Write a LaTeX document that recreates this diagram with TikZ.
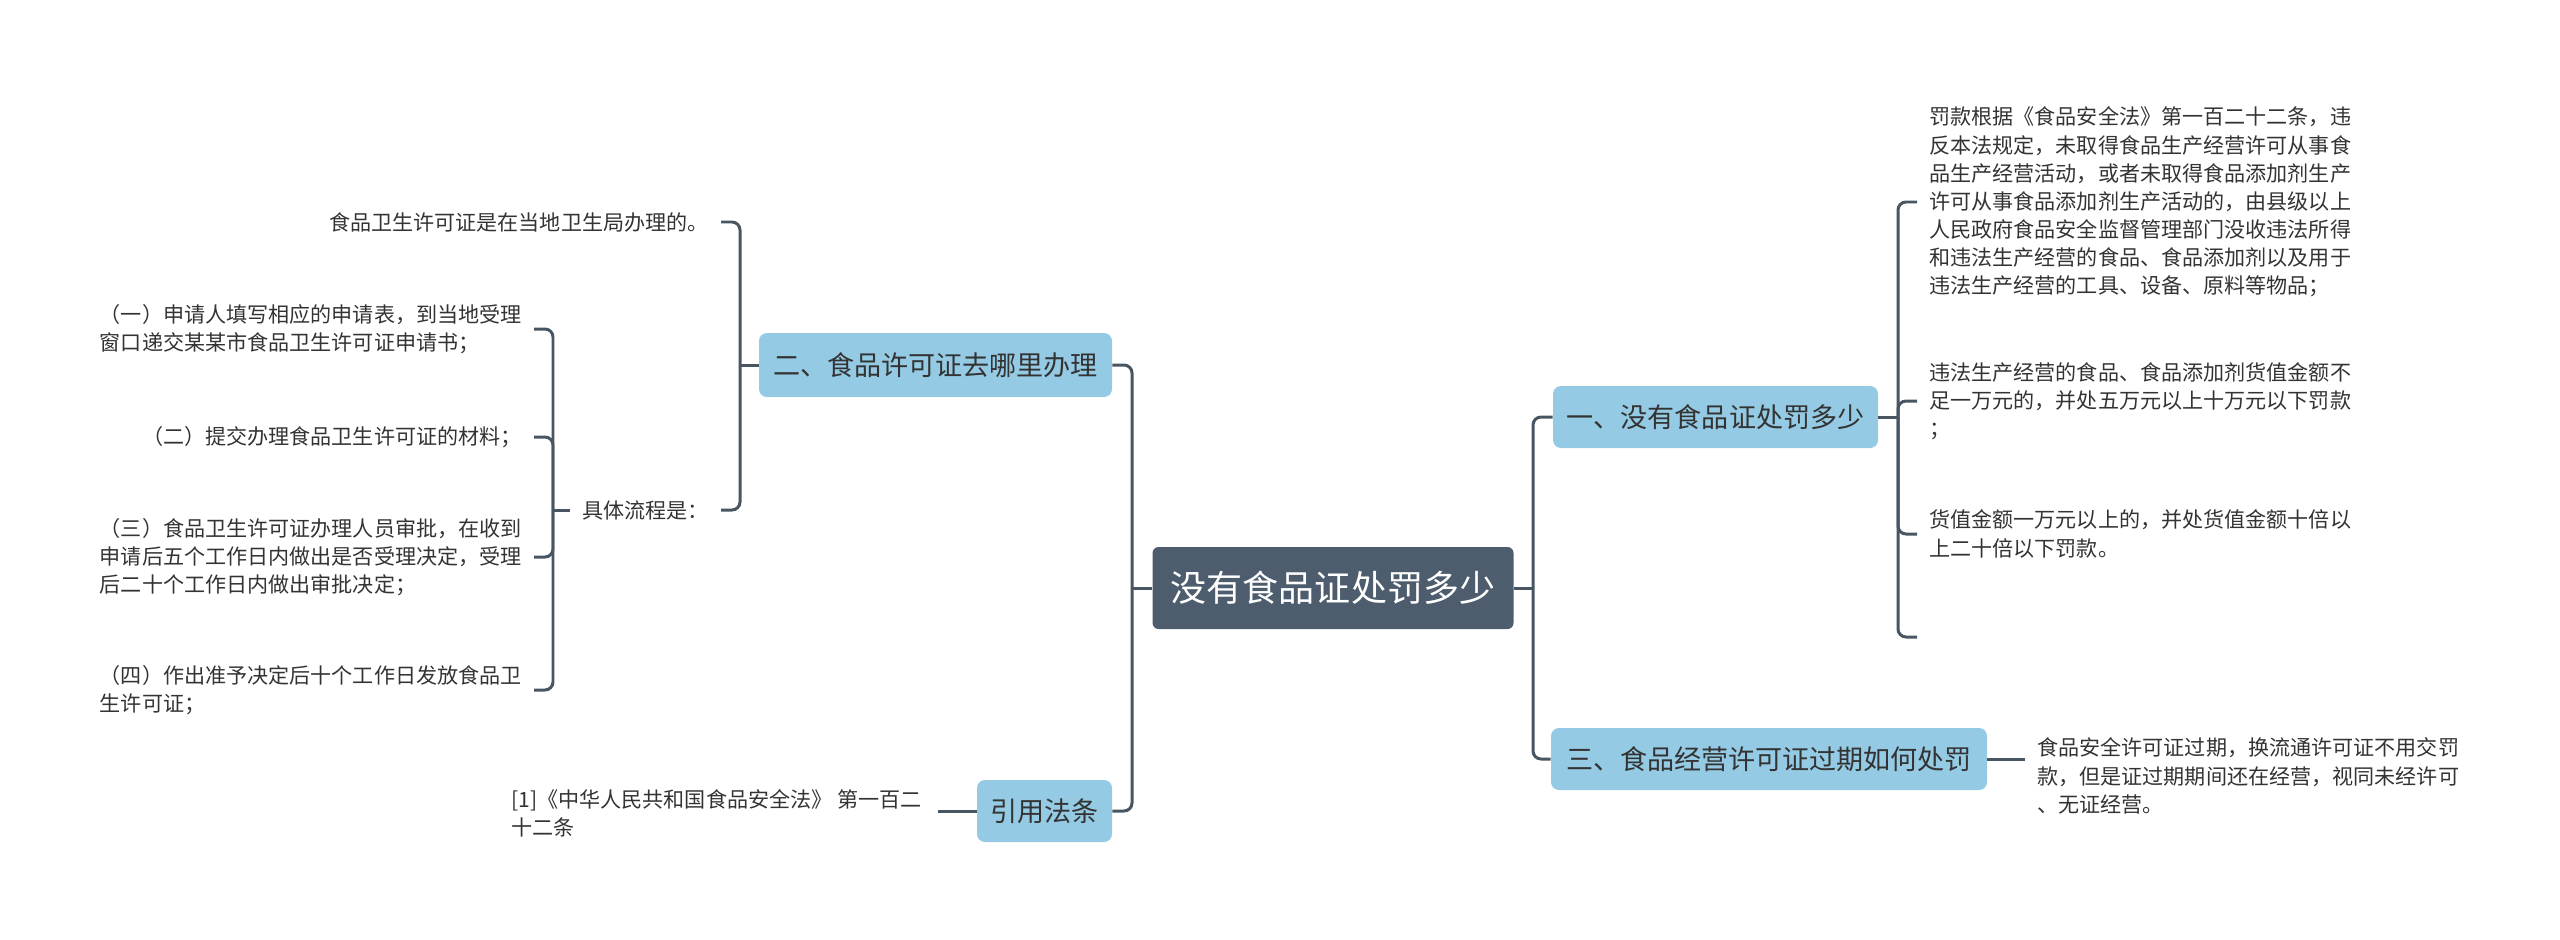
\documentclass[tikz,border=0pt]{standalone}
\usepackage{fontspec}
\setmainfont{Noto Sans CJK SC}
\definecolor{linec}{RGB}{72,86,100}
\definecolor{rootc}{RGB}{77,93,109}
\definecolor{branchc}{RGB}{148,202,227}
\definecolor{textc}{RGB}{51,51,51}
\begin{document}
\begin{tikzpicture}[x=0.2mm,y=-0.2mm,
  link/.style={draw=linec,line width=1.7pt,rounded corners=1.6mm},
  rootbox/.style={fill=rootc,rounded corners=1.2mm,text=white,inner xsep=0pt,minimum width=72.2mm,minimum height=16.4mm,font=\fontsize{20.5pt}{24pt}\selectfont},
  branchbox/.style={fill=branchc,rounded corners=1.6mm,text=textc,inner xsep=0pt,minimum height=12.4mm,font=\fontsize{15.4pt}{18pt}\selectfont},
  leaf/.style={text=textc,inner xsep=2.4mm,inner ysep=1mm,align=left,font=\fontsize{12pt}{16pt}\selectfont}]
\useasboundingbox (0,0) rectangle (2560,939);
\node[rootbox] (root) at (1333,588) {没有食品证处罚多少};
\node[branchbox,minimum width=65mm] (b1) at (1715.5,417) {一、没有食品证处罚多少};
\node[branchbox,minimum width=87.2mm] (b3) at (1769,759) {三、食品经营许可证过期如何处罚};
\node[branchbox,minimum width=70.6mm,minimum height=12.8mm] (b2) at (935.5,365) {二、食品许可证去哪里办理};
\node[branchbox,minimum width=27mm] (bref) at (1044.5,811) {引用法条};
% right side leaves
\node[leaf,anchor=west] (r1) at (1917,202) {罚款根据《食品安全法》第一百二十二条，违\\反本法规定，未取得食品生产经营许可从事食\\品生产经营活动，或者未取得食品添加剂生产\\许可从事食品添加剂生产活动的，由县级以上\\人民政府食品安全监督管理部门没收违法所得\\和违法生产经营的食品、食品添加剂以及用于\\违法生产经营的工具、设备、原料等物品；};
\node[leaf,anchor=west] (r2) at (1917,401) {违法生产经营的食品、食品添加剂货值金额不\\足一万元的，并处五万元以上十万元以下罚款\\；};
\node[leaf,anchor=west] (r3) at (1917,534) {货值金额一万元以上的，并处货值金额十倍以\\上二十倍以下罚款。};
\coordinate (r4) at (1917,637);
\node[leaf,anchor=west] (s1) at (2025,776) {食品安全许可证过期，换流通许可证不用交罚\\款，但是证过期期间还在经营，视同未经许可\\、无证经营。};
% left side leaves
\node[leaf,anchor=east] (l1) at (721,222) {食品卫生许可证是在当地卫生局办理的。};
\node[leaf,anchor=east] (l2) at (721,510) {具体流程是：};
\node[leaf,anchor=east] (p1) at (534,329) {（一）申请人填写相应的申请表，到当地受理\\窗口递交某某市食品卫生许可证申请书；};
\node[leaf,anchor=east] (p2) at (534,437) {（二）提交办理食品卫生许可证的材料；};
\node[leaf,anchor=east] (p3) at (534,557) {（三）食品卫生许可证办理人员审批，在收到\\申请后五个工作日内做出是否受理决定，受理\\后二十个工作日内做出审批决定；};
\node[leaf,anchor=east] (p4) at (534,690) {（四）作出准予决定后十个工作日发放食品卫\\生许可证；};
\node[leaf,anchor=east] (c1) at (934,813) {[1]《中华人民共和国食品安全法》 第一百二\\十二条};
% junctions
\coordinate (jr) at (1533,588);
\coordinate (jl) at (1132,588);
\coordinate (j1) at (1898,417);
\coordinate (j2) at (740,365);
\coordinate (j3) at (553,510);
\draw[link] (root.east) -- (jr);
\draw[link] (root.west) -- (jl);
\foreach \c in {b1,b3} \draw[link] (jr) |- (\c.west);
\foreach \c in {b2,bref} \draw[link] (jl) |- (\c.east);
\draw[link] (b1.east) -- (j1);
\foreach \c in {r1,r2,r3} \draw[link] (j1) |- (\c.west);
\draw[link] (j1) |- (r4);
\draw[link] (b3.east) -- (s1.west |- b3.east);
\draw[link] (b2.west) -- (j2);
\foreach \c in {l1,l2} \draw[link] (j2) |- (\c.east);
\draw[link] (l2.west) -- (j3);
\foreach \c in {p1,p2,p3,p4} \draw[link] (j3) |- (\c.east);
\draw[link] (bref.west) -- ([xshift=0.8mm]c1.east |- bref.west);
\end{tikzpicture}
\end{document}
